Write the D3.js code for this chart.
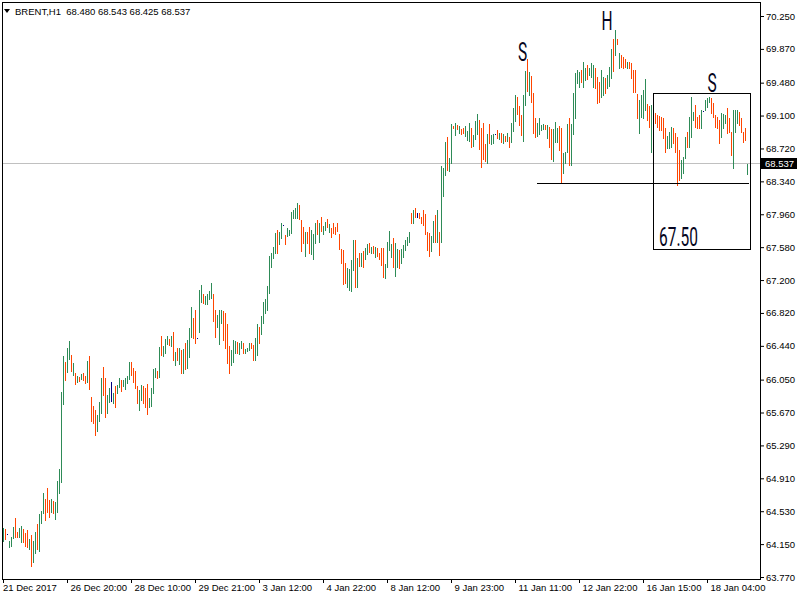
<!DOCTYPE html>
<html><head><meta charset="utf-8">
<script src="https://cdn.jsdelivr.net/npm/d3@7"></script>
<style>
body{margin:0;background:#fff}
svg{display:block}
</style>
</head><body>
<svg id="c" width="800" height="600"></svg>
<script>
const symbol = "BRENT,H1";
const lastOHLC = [68.480, 68.543, 68.425, 68.537];

const highs = [
64.34,64.33,64.27,64.19,64.23,64.35,64.45,64.29,64.34,64.36,
64.33,64.28,64.31,64.21,64.26,64.19,64.29,64.38,64.50,64.53,
64.74,64.67,64.80,64.66,64.67,64.65,64.64,64.88,65.02,65.91,
66.32,66.25,66.42,66.50,66.33,66.24,66.13,66.09,66.08,66.12,
66.13,66.09,66.27,66.32,65.85,65.75,65.70,65.64,65.79,66.07,
66.20,66.07,65.87,65.95,66.02,65.90,65.98,65.99,66.07,66.05,
66.05,66.07,66.09,66.25,66.25,66.18,66.15,65.98,65.93,65.99,
65.98,65.95,66.00,65.84,65.95,66.17,66.18,66.15,66.43,66.55,
66.44,66.52,66.55,66.52,66.55,66.60,66.37,66.42,66.42,66.39,
66.40,66.47,66.51,66.65,66.89,66.76,66.85,66.53,67.09,67.14,
67.04,67.02,67.04,67.07,67.17,67.04,66.85,66.80,66.85,66.85,
66.84,66.82,66.69,66.44,66.39,66.51,66.50,66.49,66.47,66.50,
66.47,66.40,66.42,66.47,66.47,66.45,66.53,66.69,66.66,66.78,
66.95,66.98,67.13,67.48,67.51,67.58,67.74,67.78,67.76,67.86,
67.84,67.72,67.80,67.78,67.99,68.01,68.03,68.09,68.07,67.89,
67.81,67.76,67.76,67.81,67.78,67.73,67.86,67.89,67.86,67.93,
67.83,67.87,67.91,67.85,67.80,67.86,67.81,67.86,67.73,67.56,
67.55,67.40,67.34,67.33,67.43,67.66,67.66,67.46,67.51,67.51,
67.54,67.57,67.62,67.63,67.58,67.59,67.58,67.57,67.51,67.57,
67.57,67.39,67.64,67.77,67.62,67.69,67.63,67.56,67.55,67.56,
67.60,67.66,67.70,67.76,67.98,68.01,68.03,67.98,67.98,67.93,
68.01,67.96,67.76,67.74,67.71,67.88,67.95,68.01,67.76,68.52,
68.49,68.80,68.85,68.61,69.00,68.98,69.01,68.99,68.98,68.95,
68.96,68.98,68.92,69.01,68.96,68.88,69.04,69.12,69.05,68.96,
69.01,68.77,68.89,69.00,68.88,68.89,68.89,68.93,68.90,68.90,
68.89,68.86,68.90,68.85,69.01,69.19,69.34,69.31,69.21,69.11,
69.34,69.61,69.75,69.60,69.56,69.36,69.07,69.01,69.07,68.99,
69.00,68.99,68.99,68.97,68.95,68.95,69.03,68.96,68.98,68.96,
68.67,68.68,69.00,69.07,69.00,69.36,69.59,69.63,69.60,69.63,
69.72,69.65,69.68,69.65,69.71,69.68,69.65,69.55,69.49,69.63,
69.55,69.53,69.57,69.66,69.87,69.98,70.09,69.98,69.82,69.80,
69.78,69.75,69.72,69.72,69.71,69.63,69.63,69.35,69.28,69.34,
69.40,69.52,69.23,69.21,69.22,69.21,69.13,69.11,69.10,69.08,
69.07,68.96,68.86,68.91,68.97,68.96,68.90,68.85,68.70,68.59,
68.62,68.85,68.91,69.08,69.31,69.14,69.22,69.08,69.11,69.16,
69.15,69.28,69.30,69.31,69.30,69.25,69.11,69.08,69.05,69.13,
69.12,69.11,69.19,69.07,68.91,69.16,69.16,69.16,69.14,69.07,
68.91,68.96,68.543
];

const lows = [
64.19,64.21,64.27,64.12,64.13,64.22,64.23,64.23,64.23,64.18,
64.18,64.13,64.12,64.09,63.90,63.94,64.05,64.09,64.07,64.39,
64.51,64.43,64.52,64.46,64.52,64.51,64.44,64.52,64.74,64.87,
65.77,66.05,66.14,66.29,66.15,66.10,66.00,66.02,66.03,66.06,
66.05,66.01,66.02,65.94,65.57,65.55,65.41,65.46,65.57,65.66,
65.87,65.62,65.66,65.79,65.80,65.78,65.73,65.90,65.97,65.92,
65.98,65.94,66.01,66.06,66.10,66.02,65.95,65.78,65.70,65.82,
65.78,65.73,65.65,65.73,65.75,65.90,66.08,66.07,66.08,66.33,
66.32,66.36,66.46,66.45,66.44,66.28,66.22,66.28,66.23,66.13,
66.13,66.17,66.18,66.31,66.54,66.53,66.47,66.53,66.60,66.95,
66.94,66.92,66.92,66.98,66.99,66.73,66.54,66.66,66.46,66.70,
66.51,66.42,66.24,66.13,66.22,66.25,66.36,66.36,66.35,66.42,
66.36,66.36,66.38,66.39,66.42,66.28,66.28,66.33,66.47,66.58,
66.70,66.82,66.85,67.05,67.35,67.46,67.51,67.51,67.62,67.69,
67.84,67.62,67.71,67.72,67.74,67.92,67.92,67.92,67.91,67.54,
67.63,67.48,67.63,67.51,67.50,67.44,67.63,67.73,67.64,67.77,
67.73,67.78,67.81,67.76,67.70,67.74,67.73,67.77,67.56,67.40,
67.15,67.17,67.12,67.09,67.07,67.32,67.12,67.12,67.36,67.36,
67.35,67.44,67.50,67.52,67.51,67.51,67.47,67.48,67.44,67.37,
67.24,67.22,67.35,67.55,67.47,67.35,67.25,67.35,67.34,67.40,
67.47,67.55,67.60,67.64,67.86,67.86,67.93,67.93,67.92,67.86,
67.84,67.73,67.55,67.48,67.54,67.64,67.64,67.64,67.49,67.64,
68.17,68.41,68.47,68.46,68.55,68.96,68.88,68.95,68.90,68.89,
68.90,68.86,68.82,68.81,68.74,68.75,68.83,68.89,68.71,68.51,
68.60,68.58,68.55,68.78,68.77,68.78,68.89,68.84,68.83,68.80,
68.78,68.81,68.81,68.74,68.80,68.92,69.04,69.12,68.99,68.88,
68.81,69.22,69.38,69.34,69.26,68.90,68.85,68.86,68.89,68.93,
68.95,68.95,68.84,68.74,68.60,68.58,68.80,68.80,68.70,68.32,
68.44,68.55,68.68,68.53,68.53,68.89,69.07,69.48,69.43,69.49,
69.43,69.51,69.52,69.57,69.55,69.43,69.42,69.25,69.26,69.31,
69.34,69.36,69.42,69.44,69.53,69.61,69.80,69.93,69.65,69.66,
69.65,69.66,69.65,69.65,69.53,69.37,69.37,69.07,68.90,69.08,
69.07,69.16,69.05,68.97,68.68,68.65,69.01,68.97,68.93,68.93,
68.84,68.68,68.73,68.73,68.74,68.78,68.68,68.30,68.36,68.38,
68.44,68.61,68.74,68.74,68.85,69.05,68.97,68.96,68.96,68.96,
69.15,69.16,69.20,69.26,69.13,69.08,68.97,68.96,68.78,68.85,
68.96,69.01,68.90,68.91,68.65,68.49,68.91,69.01,68.99,68.91,
68.80,68.82,68.425
];

// u = up bar, d = down bar, n = unchanged
const directions = (
"udnuuudduu" + "ddduduuduu" + "uddduduuuu" + "uduudududu" + "ddudddduuu" +
"dduunuduud" + "uuuudddduu" + "ddduuuudud" + "uuudududud" + "uduuuddnuu" +
"duuuudduuu" + "dddduuuduu" + "duuudduudu" + "uuuuuuuduu" + "nduuuuuudd" +
"dudduuudud" + "uududddddd" + "dduuuududu" + "duudududdd" + "duuuuduudu" +
"uuuududndd" + "dddduududu" + "uuduududud" + "duuuduuudd" + "dduduundud" +
"ududuuuddd" + "uududdduuu" + "ududduuudd" + "uuuduuuuud" + "uuduuudddu" +
"uduuududud" + "dduddddduu" + "uudduddddd" + "dduuuddddu" + "uuduuudddu" +
"nuuudddddu" + "uuddduuudd" + "ddu").split("");

const priceTicks = [70.250,69.870,69.480,69.100,68.720,68.340,67.960,67.580,67.200,
  66.820,66.440,66.050,65.670,65.290,64.910,64.530,64.150,63.770];
const timeLabels = ["21 Dec 2017","26 Dec 20:00","28 Dec 10:00","29 Dec 21:00","3 Jan 12:00",
  "4 Jan 22:00","8 Jan 12:00","9 Jan 23:00","11 Jan 11:00","12 Jan 22:00","16 Jan 15:00","18 Jan 04:00"];
const barsPerLabel = 32;

// chart objects (bar index / price anchored)
const patternLabels = [
  {text:"S", bar:259.8, price:69.73},
  {text:"H", bar:302, price:70.09},
  {text:"S", bar:354.5, price:69.37}
];
const targetLabel = {text:"67.50", bar:328, price:67.59};
const boxObj = {bar0:325, bar1:373.5, price0:69.36, price1:67.56};
const neckline = {bar0:267, bar1:373, price:68.32};

const FONT = "'Liberation Sans', Arial, sans-serif";
const svg = d3.select("#c");
const plot = {l:2, t:2, r:760, b:579};

const x = d3.scaleLinear().domain([0, highs.length - 1]).range([3, 747]);
const y = d3.scaleLinear().domain([63.77, 70.25]).range([577, 16]);
const colors = {u:"#2e8b57", d:"#ff4500", n:"#000080"};

svg.append("rect").attr("width",800).attr("height",600).attr("fill","#fff");

// current price line
const yLast = Math.round(y(lastOHLC[3]));
svg.append("line").attr("x1",plot.l+1).attr("x2",plot.r).attr("y1",yLast-0.5).attr("y2",yLast-0.5)
  .attr("stroke","#c0c0c0").attr("stroke-width",1);

// bars
svg.append("g").attr("shape-rendering","crispEdges")
  .selectAll("rect").data(d3.range(highs.length)).join("rect")
  .attr("x", i => Math.round(x(i)))
  .attr("width", 1)
  .attr("y", i => Math.round(y(highs[i])))
  .attr("height", i => Math.max(1, Math.round(y(lows[i])) - Math.round(y(highs[i])) + 1))
  .attr("fill", i => colors[directions[i]] || colors.u);

// frame
svg.append("rect").attr("x",plot.l+0.5).attr("y",plot.t+0.5)
  .attr("width",plot.r-plot.l).attr("height",plot.b-plot.t)
  .attr("fill","none").attr("stroke","#000").attr("shape-rendering","crispEdges");

// right price axis
const ra = d3.axisRight(y).tickValues(priceTicks).tickFormat(d3.format(".3f"))
  .tickSize(4).tickPadding(2).tickSizeOuter(0);
const gR = svg.append("g").attr("transform",`translate(${plot.r},0)`).call(ra);
gR.select(".domain").remove();
gR.attr("font-family",FONT).attr("font-size",9.5);
gR.selectAll("text").attr("fill","#000");

// bottom time axis
const ba = d3.axisBottom(x).tickValues(d3.range(0, highs.length, barsPerLabel))
  .tickFormat((d,k) => timeLabels[k]).tickSize(4).tickPadding(1).tickSizeOuter(0);
const gB = svg.append("g").attr("transform",`translate(0,${plot.b})`).call(ba);
gB.select(".domain").remove();
gB.attr("font-family",FONT).attr("font-size",9.5);
gB.selectAll("text").attr("text-anchor","start").attr("fill","#000")
  .attr("x",(d,k)=> k===0 ? -0.5 : 3);

// current price label
svg.append("rect").attr("x",761).attr("y",yLast-6).attr("width",36).attr("height",11).attr("fill","#000");
svg.append("text").attr("x",765).attr("y",yLast+3).attr("fill","#fff")
  .attr("font-family",FONT).attr("font-size",9.5).text(d3.format(".3f")(lastOHLC[3]));

// header
svg.append("path").attr("d","M4,9 L10,9 L7,13 Z").attr("fill","#000");
svg.append("text").attr("x",15).attr("y",15).attr("font-family",FONT).attr("font-size",9.5)
  .style("white-space","pre").attr("fill","#000")
  .text(symbol + "  " + lastOHLC.map(v=>v.toFixed(3)).join(" "));

// chart objects
svg.append("rect").attr("x",Math.round(x(boxObj.bar0))+0.5).attr("y",Math.round(y(boxObj.price0))+0.5)
  .attr("width",Math.round(x(boxObj.bar1))-Math.round(x(boxObj.bar0)))
  .attr("height",Math.round(y(boxObj.price1))-Math.round(y(boxObj.price0)))
  .attr("fill","none").attr("stroke","#000").attr("stroke-width",1);
svg.append("line").attr("x1",x(neckline.bar0)).attr("x2",x(neckline.bar1))
  .attr("y1",Math.round(y(neckline.price))+0.5).attr("y2",Math.round(y(neckline.price))+0.5)
  .attr("stroke","#000").attr("stroke-width",1);

const LFONT = "Roboto, 'Liberation Sans', sans-serif";
patternLabels.forEach(p => {
  svg.append("text").attr("transform",`translate(${x(p.bar)},${y(p.price)}) scale(0.62,1)`)
    .attr("text-anchor","middle").attr("font-family",LFONT).attr("font-size",25)
    .attr("fill","#050520").text(p.text);
});
svg.append("text").attr("transform",`translate(${x(targetLabel.bar)},${y(targetLabel.price)}) scale(0.62,1)`)
  .attr("font-family",LFONT).attr("font-size",25).attr("fill","#050520").text(targetLabel.text);
</script>
</body></html>
